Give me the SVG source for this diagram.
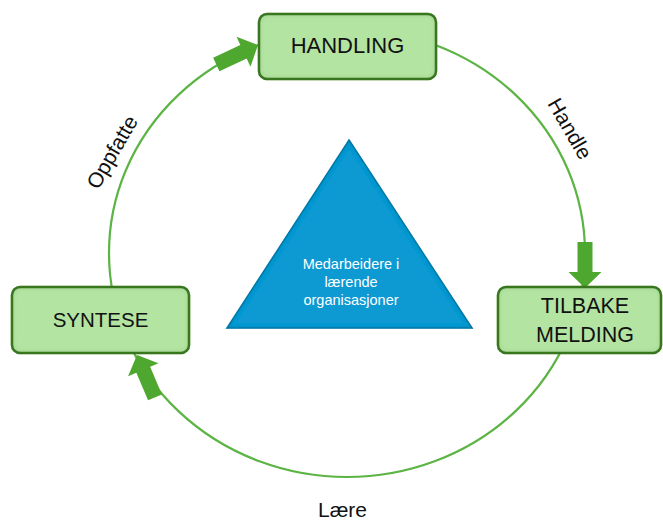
<svg xmlns="http://www.w3.org/2000/svg" xmlns:xlink="http://www.w3.org/1999/xlink" width="663" height="523" viewBox="0 0 663 523">
<style>
.box{fill:#b4e4a1;stroke:#3b7a24;stroke-width:2.5;filter:url(#inner)}
.lbl{font-family:"Liberation Sans",Arial,sans-serif;fill:#111;text-anchor:middle}
.arr{fill:#4ea72e}
.cyc{fill:none;stroke:#5cb444;stroke-width:2.2}
.tri{fill:#1199d2;stroke:#0c7fb0;stroke-width:1.5;filter:url(#inner2)}
.tt{font-family:"Liberation Sans",Arial,sans-serif;fill:#ffffff;font-size:14.5px;text-anchor:middle}
</style>
<defs>
<filter id="inner" x="-10%" y="-10%" width="120%" height="120%">
<feComponentTransfer in="SourceAlpha" result="inv"><feFuncA type="table" tableValues="1 0"/></feComponentTransfer>
<feGaussianBlur in="inv" stdDeviation="3" result="blur"/>
<feFlood flood-color="#2f6a1a" flood-opacity="0.55"/>
<feComposite in2="blur" operator="in" result="sh"/>
<feComposite in="sh" in2="SourceAlpha" operator="in" result="ins"/>
<feMerge><feMergeNode in="SourceGraphic"/><feMergeNode in="ins"/></feMerge>
</filter>
<filter id="inner2" x="-10%" y="-10%" width="120%" height="120%">
<feComponentTransfer in="SourceAlpha" result="inv"><feFuncA type="table" tableValues="1 0"/></feComponentTransfer>
<feGaussianBlur in="inv" stdDeviation="2.5" result="blur"/>
<feFlood flood-color="#085e85" flood-opacity="0.5"/>
<feComposite in2="blur" operator="in" result="sh"/>
<feComposite in="sh" in2="SourceAlpha" operator="in" result="ins"/>
<feMerge><feMergeNode in="SourceGraphic"/><feMergeNode in="ins"/></feMerge>
</filter>
<path id="blk" d="M-46,-7.5 L-16,-7.5 L-16,-16.5 L0,0 L-16,16.5 L-16,7.5 L-46,7.5 Z"/>
</defs>
<g id="connectors">
<ellipse class="cyc" cx="347" cy="253" rx="238" ry="224"/>
<use href="#blk" class="arr" transform="translate(258,45) rotate(-25)"/>
<use href="#blk" class="arr" transform="translate(585,288) rotate(90)"/>
<use href="#blk" class="arr" transform="translate(137,355) rotate(-113)"/>
<text class="lbl" font-size="21" transform="translate(118.4,155.7) rotate(-60)">Oppfatte</text>
<text class="lbl" font-size="21" transform="translate(563.6,132.2) rotate(60)">Handle</text>
<text class="lbl" font-size="21" x="342.5" y="517">Lære</text>
</g>
<g id="center">
<polygon class="tri" points="349,140 472,328 227,328"/>
<text class="tt" x="351" y="269">Medarbeidere i</text>
<text class="tt" x="351" y="287">lærende</text>
<text class="tt" x="351" y="305">organisasjoner</text>
</g>
<g id="handling">
<rect class="box" x="259" y="14" width="177" height="65" rx="8"/>
<text class="lbl" font-size="22" x="347.5" y="53">HANDLING</text>
</g>
<g id="tilbakemelding">
<rect class="box" x="498" y="287" width="163" height="66" rx="8"/>
<text class="lbl" font-size="21.5" x="585" y="313">TILBAKE</text>
<text class="lbl" font-size="21.5" x="585" y="342">MELDING</text>
</g>
<g id="syntese">
<rect class="box" x="12" y="287" width="177" height="66" rx="8"/>
<text class="lbl" font-size="20.5" x="100.5" y="327">SYNTESE</text>
</g>
</svg>
